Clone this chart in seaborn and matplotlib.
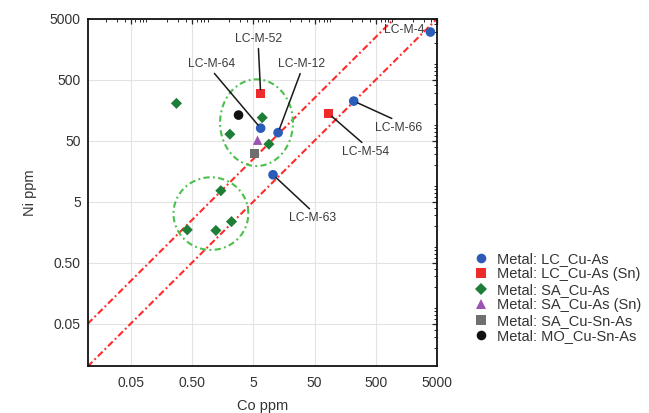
import numpy as np
import pandas as pd
import matplotlib
matplotlib.use("Agg")
import matplotlib.pyplot as plt
from matplotlib.ticker import FixedLocator, FixedFormatter, LogLocator, NullFormatter
import seaborn as sns

# ---- data: Co and Ni contents (ppm) of the metal samples ----
sample = ["LC-M-4", "LC-M-66", "LC-M-64", "LC-M-12", "LC-M-63",
          "LC-M-52", "LC-M-54",
          "", "", "", "", "", "", "", "",
          "", "", ""]
group = ["LC_Cu-As"] * 5 + ["LC_Cu-As (Sn)"] * 2 + ["SA_Cu-As"] * 8 + \
        ["SA_Cu-As (Sn)", "SA_Cu-Sn-As", "MO_Cu-Sn-As"]
co_ppm = [3860, 217, 6.6, 12.7, 10.5,
          6.6, 85,
          0.28, 7.0, 2.08, 9.0, 1.48, 2.21, 1.23, 0.42,
          5.87, 5.31, 2.88]
ni_ppm = [3000, 222, 80, 67.6, 13.8,
          293, 138,
          204, 119, 63.7, 43.8, 7.57, 2.36, 1.69, 1.73,
          50.8, 30.7, 131]

group_order = ["LC_Cu-As", "LC_Cu-As (Sn)", "SA_Cu-As",
               "SA_Cu-As (Sn)", "SA_Cu-Sn-As", "MO_Cu-Sn-As"]

# Ni/Co reference ratios drawn as diagonal lines
ratio_lines = [1, 5]

# grouping rings: centre (Co, Ni) and half-widths in decades
ring_co = [5.65, 1.02]
ring_ni = [98.4, 3.19]
ring_rx = [0.594, 0.61]
ring_ry = [0.71, 0.595]

tick_values = [0.05, 0.5, 5, 50, 500, 5000]
tick_labels = ["0.05", "0.50", "5", "50", "500", "5000"]
axis_limits = (0.01, 5000)

# ---- styling ----
sns.set_style("white")
plt.rcParams["font.family"] = ["Liberation Sans", "DejaVu Sans"]

labels_full = {g: "Metal: " + g for g in group_order}
df = pd.DataFrame({
    "Co": co_ppm,
    "Ni": ni_ppm,
    "group": [labels_full[g] for g in group],
    "sample": sample,
})
hue_order = [labels_full[g] for g in group_order]
palette = dict(zip(hue_order, ["#2a5cb8", "#ee2a2a", "#1e7d36",
                               "#9e52b3", "#6f6f6f", "#111111"]))
markers = dict(zip(hue_order, ["o", "s", "D", "^", "s", "o"]))
sizes = dict(zip(hue_order, [48, 44, 32, 46, 44, 48]))

fig = plt.figure(figsize=(6.49, 4.13), dpi=100)
ax = fig.add_axes([0.1351, 0.1126, 0.5387, 0.8426])

ax.set_xscale("log")
ax.set_yscale("log")
ax.set_xlim(*axis_limits)
ax.set_ylim(*axis_limits)

# diagonal reference lines
xl = np.array(axis_limits, dtype=float)
for r in ratio_lines:
    ax.plot(xl, xl * r, color="#ff2a2a", lw=1.5,
            ls=(0, (3.2, 1.4, 0.9, 1.4)), zorder=2)

# dashed grouping rings
t = np.linspace(0, 2 * np.pi, 400)
for cx, cy, rx, ry in zip(ring_co, ring_ni, ring_rx, ring_ry):
    ax.plot(cx * 10 ** (rx * np.cos(t)), cy * 10 ** (ry * np.sin(t)),
            color="#4cc04c", lw=1.5, ls=(0, (3.0, 1.6, 0.9, 1.6)), zorder=2)

sns.scatterplot(data=df, x="Co", y="Ni", hue="group", style="group",
                size="group", hue_order=hue_order, style_order=hue_order,
                size_order=hue_order, palette=palette, markers=markers,
                sizes=sizes, linewidth=0, ax=ax, zorder=4, legend="full")

# sample labels with leader lines
label_offsets = {
    "LC-M-52": ((-1.7, 39.2), (0.5, 0)),
    "LC-M-64": ((-35.3, 46.1), (0.5, 0)),
    "LC-M-12": ((16.8, 49.2), (0.5, 0)),
    "LC-M-66": ((32.6, -19.2), (0.5, 1)),
    "LC-M-54": ((26.6, -27.4), (0.5, 1)),
    "LC-M-63": ((28.8, -31.2), (0.5, 1)),
}
for name, xv, yv in zip(df["sample"], df["Co"], df["Ni"]):
    if not name:
        continue
    if name in label_offsets:
        (dx, dy), rel = label_offsets[name]
        ax.annotate(name, xy=(xv, yv), xytext=(dx, dy),
                    textcoords="offset points", ha="center", va="center",
                    fontsize=8.7, color="#3a3a3a", zorder=5,
                    arrowprops=dict(arrowstyle="-", color="#1a1a1a", lw=1.1,
                                    relpos=rel, shrinkA=0, shrinkB=3))
    else:
        ax.annotate(name, xy=(xv, yv), xytext=(-18.7, 1.7),
                    textcoords="offset points", ha="center", va="center",
                    fontsize=8.7, color="#3a3a3a", zorder=5)

# axes, ticks and grid
for axis in (ax.xaxis, ax.yaxis):
    axis.set_major_locator(FixedLocator(tick_values))
    axis.set_major_formatter(FixedFormatter(tick_labels))
    axis.set_minor_locator(LogLocator(base=10, subs=np.arange(2, 10)))
    axis.set_minor_formatter(NullFormatter())
ax.tick_params(which="both", direction="in", top=True, right=True,
               colors="#222222", labelcolor="#333333")
ax.tick_params(which="major", length=3.5, width=0.9, labelsize=10)
ax.tick_params(axis="x", which="major", pad=7)
ax.tick_params(axis="y", which="major", pad=5)
ax.tick_params(which="minor", length=2, width=0.7)
ax.grid(True, which="major", color="#e3e3e3", lw=0.8, zorder=0)
ax.set_axisbelow(True)
for sp in ax.spines.values():
    sp.set_color("#111111")
    sp.set_linewidth(1.3)

ax.set_xlabel("Co ppm", fontsize=10.5, color="#333333", labelpad=6)
ax.set_ylabel("Ni ppm", fontsize=10.5, color="#333333", labelpad=9)

handles, labels = ax.get_legend_handles_labels()
ax.legend(handles, labels, loc="upper left", bbox_to_anchor=(0.7294, 0.3903),
          bbox_transform=fig.transFigure, frameon=False, fontsize=10.5,
          borderpad=0, borderaxespad=0, handlelength=1.0, handletextpad=0.6,
          labelspacing=0.1, labelcolor="#333333")

fig.savefig("out.png", dpi=100)
